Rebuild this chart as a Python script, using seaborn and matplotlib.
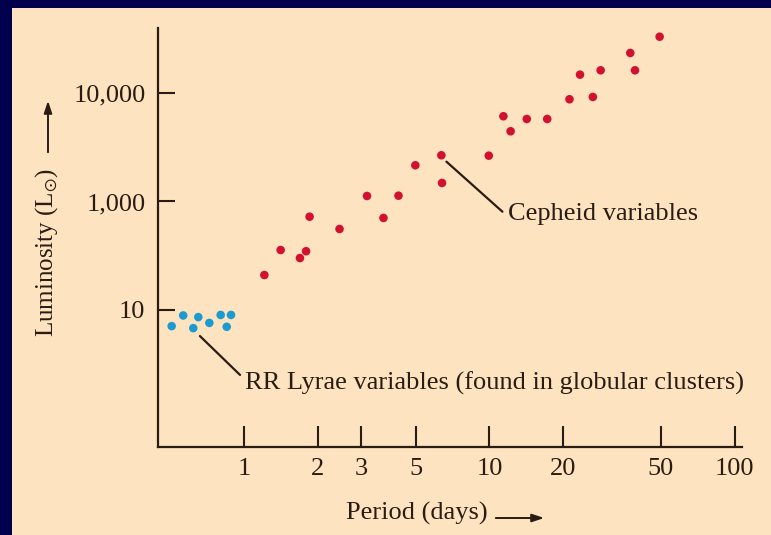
import matplotlib
matplotlib.use("Agg")
import matplotlib.pyplot as plt
from matplotlib.patches import Rectangle
import seaborn as sns
import pandas as pd

# ---- data ----
rr_period = [0.507, 0.565, 0.621, 0.651, 0.722, 0.803, 0.885, 0.850]
rr_lum = [71, 89, 68, 86, 76, 90, 90, 70]

ceph_period = [1.21, 1.41, 1.69, 1.79, 1.85, 2.45, 3.70, 3.17, 4.26, 4.99,
               6.37, 6.41, 9.94, 11.4, 12.2, 14.2, 17.2, 21.2, 26.4, 23.4,
               28.4, 37.5, 39.2, 49.4]
ceph_lum = [210, 357, 301, 348, 724, 558, 705, 1124, 1131, 2156,
            2666, 1481, 2644, 6100, 4436, 5757, 5757, 8750, 9190, 14750,
            16180, 23370, 16180, 33000]

x_ticks = [1, 2, 3, 5, 10, 20, 50, 100]
x_tick_labels = ["1", "2", "3", "5", "10", "20", "50", "100"]
y_ticks = [100, 1000, 10000]
y_tick_labels = ["10", "1,000", "10,000"]

df = pd.DataFrame({
    "period": rr_period + ceph_period,
    "lum": rr_lum + ceph_lum,
    "kind": ["RR Lyrae"] * len(rr_period) + ["Cepheid"] * len(ceph_period),
})

# ---- style ----
BG = "#FDE3BF"
NAVY = "#00004C"
INK = "#2A1C14"
FS = 19
sns.set_theme(style="white")
plt.rcParams["font.family"] = ["Liberation Serif", "DejaVu Serif"]
plt.rcParams["mathtext.fontset"] = "stix"

W, H = 771, 535
fig = plt.figure(figsize=(W / 100, H / 100), dpi=100, facecolor=NAVY)
bgrect = Rectangle((12 / W, 0), 1 - 12 / W, (H - 8) / H,
                   transform=fig.transFigure, facecolor=BG,
                   edgecolor="none", zorder=-10)
fig.add_artist(bgrect)

ax = fig.add_axes([158 / W, (H - 447) / H, (742 - 158) / W, (447 - 28) / H])
ax.set_zorder(1)
ax.patch.set_alpha(0)

sns.scatterplot(data=df, x="period", y="lum", hue="kind",
                palette={"RR Lyrae": "#1D9BD1", "Cepheid": "#D2102F"},
                s=38, linewidth=0, legend=False, ax=ax)

ax.set_xscale("log")
ax.set_yscale("log")
ax.set_xlim(0.446, 107)
ax.set_ylim(5.46, 39700)

ax.set_xticks(x_ticks)
ax.set_xticklabels(x_tick_labels)
ax.set_yticks(y_ticks)
ax.set_yticklabels(y_tick_labels)
ax.minorticks_off()

for s in ["top", "right"]:
    ax.spines[s].set_visible(False)
for s in ["left", "bottom"]:
    ax.spines[s].set_color(INK)
    ax.spines[s].set_linewidth(1.6)

ax.tick_params(axis="x", bottom=True, direction="in", length=15, width=1.5,
               color=INK, labelsize=FS, labelcolor=INK, pad=8)
ax.tick_params(axis="y", left=True, direction="in", length=12, width=1.5,
               color=INK, labelsize=FS, labelcolor=INK, pad=9)
ax.set_xlabel("")
ax.set_ylabel("")

# axis titles with arrows
fig.text(47 / W, (H - 252) / H, r"Luminosity (L$_{\odot}$)", rotation=90,
         ha="center", va="center", fontsize=18, color=INK)
fig.text(417 / W, (H - 513) / H, "Period (days)", ha="center", va="center",
         fontsize=FS, color=INK)
arrow = dict(arrowstyle="-|>,head_length=0.6,head_width=0.2", color=INK, lw=1.4)
ax.annotate("", xy=(48, H - 98), xytext=(48, H - 155),
            xycoords="figure pixels", textcoords="figure pixels",
            arrowprops=arrow, annotation_clip=False)
ax.annotate("", xy=(547, H - 518), xytext=(493, H - 518),
            xycoords="figure pixels", textcoords="figure pixels",
            arrowprops=arrow, annotation_clip=False)

# callouts
line = dict(arrowstyle="-", color=INK, lw=1.6, shrinkA=0, shrinkB=0)
ax.annotate("", xy=(6.68, 2328), xytext=(11.3, 805), arrowprops=line)
ax.text(11.96, 767, "Cepheid variables", ha="left", va="center",
        fontsize=FS, color=INK)
ax.annotate("", xy=(0.661, 57.5), xytext=(0.963, 25.2), arrowprops=line)
ax.text(1.009, 21.2, "RR Lyrae variables (found in globular clusters)",
        ha="left", va="center", fontsize=FS, color=INK)

fig.savefig("out.png", dpi=100, facecolor=NAVY)
